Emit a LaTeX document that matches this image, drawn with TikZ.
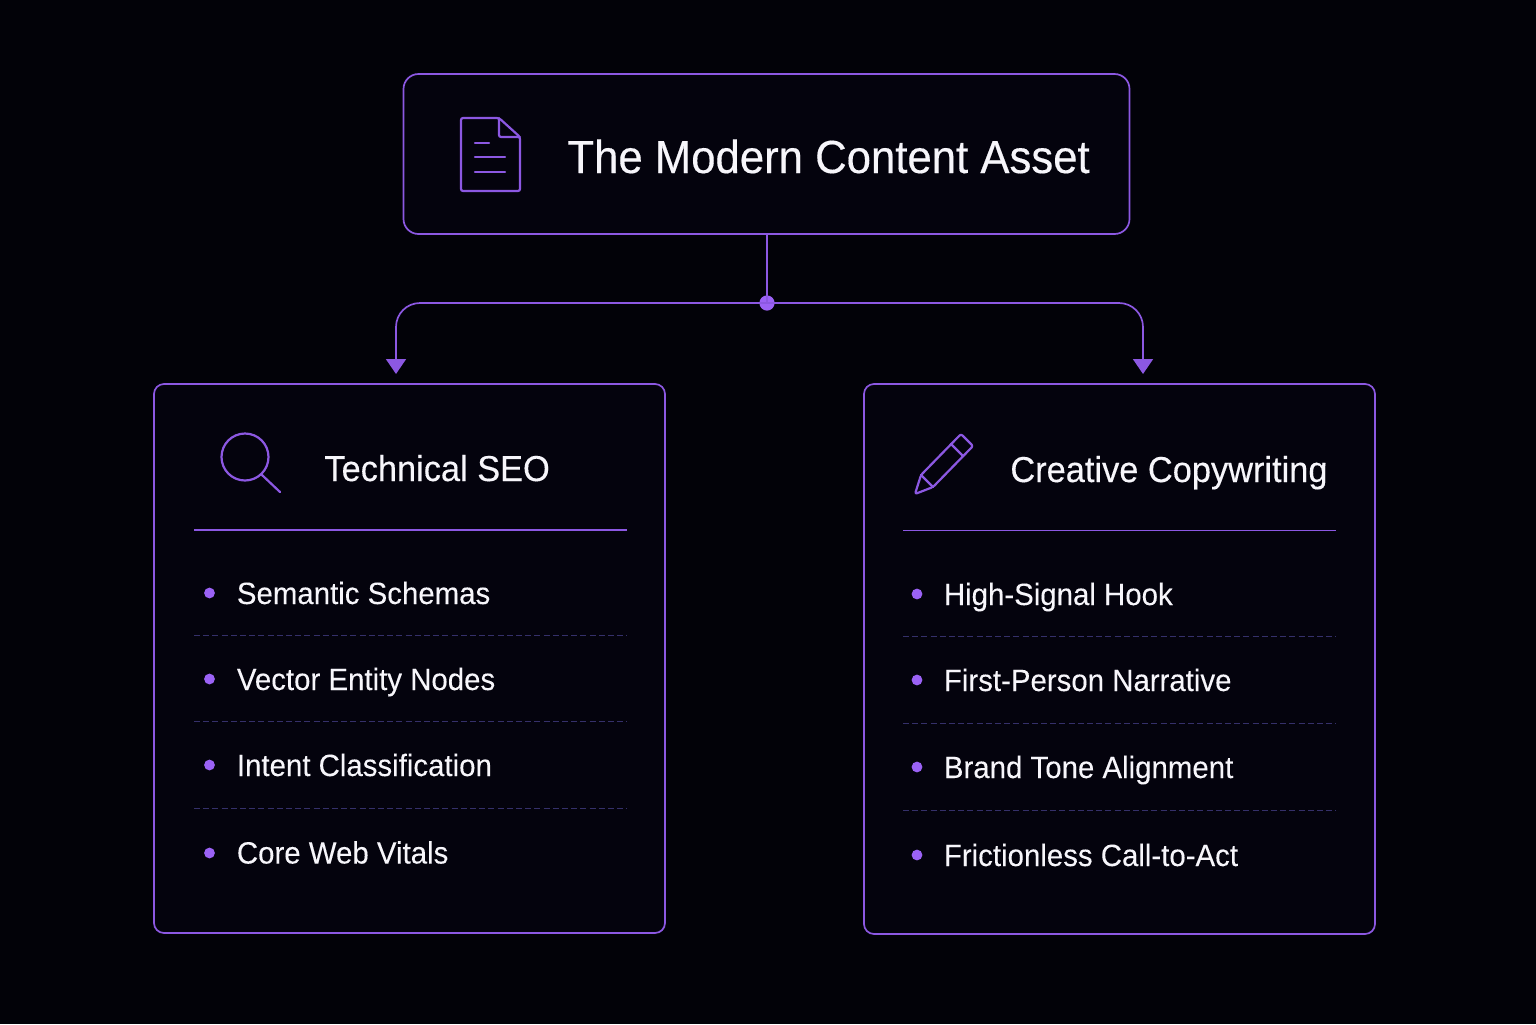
\documentclass[tikz,border=0pt]{standalone}
\usepackage{fontspec}
\setmainfont{Liberation Sans}
\newfontfamily\titlefont[FakeStretch=0.942,FakeBold=0.35]{Liberation Sans}
\newfontfamily\headfont[FakeStretch=0.955,FakeBold=0.3]{Liberation Sans}
\newfontfamily\bodyfont[FakeStretch=0.955,FakeBold=0.1]{Liberation Sans}
\usetikzlibrary{arrows.meta,calc}
\definecolor{bgc}{HTML}{020208}
\definecolor{cardc}{HTML}{04030D}
\definecolor{vio}{HTML}{8C58E2}
\definecolor{dot}{HTML}{9B62F5}
\definecolor{dashc}{HTML}{35306A}
\definecolor{txt}{HTML}{F7F6FB}
\tikzset{
  x=0.5pt,y=-0.5pt,
  cardbox/.style={draw=vio,line width=0.85pt,fill=cardc,rounded corners=#1},
  titletext/.style={anchor=base west,inner sep=0pt,text=txt,font=\titlefont\fontsize{23.2}{28}\selectfont},
  headtext/.style={anchor=base west,inner sep=0pt,text=txt,font=\headfont\fontsize{18}{22}\selectfont},
  itemtext/.style={anchor=base west,inner sep=0pt,text=txt,font=\bodyfont\fontsize{15.4}{18}\selectfont},
  icon/.style={draw=vio,line width=1.1pt,line join=round,line cap=round},
  rule/.style={draw=vio,line width=0.8pt},
  dashrule/.style={draw=dashc,line width=0.5pt,dash pattern=on 3pt off 1.6pt},
  link/.style={draw=vio,line width=0.85pt},
  bullet/.style={circle,fill=dot,inner sep=0pt,minimum size=5.4pt},
}
\begin{document}
\begin{tikzpicture}
\useasboundingbox[fill=bgc] (0,0) rectangle (1536,1024);
% boxes
\filldraw[cardbox=7.5pt] (403.5,74) rectangle (1129.5,234);
\filldraw[cardbox=5pt] (154,384) rectangle (665,933);
\filldraw[cardbox=5pt] (864,384) rectangle (1375,934);
\coordinate (topS) at (767,234);
\node[bullet,minimum size=7.6pt] (junction) at (767,303) {};
\coordinate (tipL) at (396,374);
\coordinate (tipR) at (1143,374);
\draw[link] (topS) -- (junction.center);
\draw[link,rounded corners=12pt,-{Triangle[length=7.5pt,width=10pt]}] (junction.center) -- (396,303) -- (tipL);
\draw[link,rounded corners=12pt,-{Triangle[length=7.5pt,width=10pt]}] (junction.center) -- (1143,303) -- (tipR);
% titles
\node[titletext] (title) at (567,173) {The Modern Content Asset};
\node[headtext] (headL) at (324,481) {Technical SEO};
\node[headtext] (headR) at (1010,482) {Creative Copywriting};
% document icon
\draw[icon,rounded corners=1pt] (499,118) -- (461,118) -- (461,191) -- (520,191) -- (520,137) -- cycle;
\draw[icon,rounded corners=1pt] (499,118) -- (499,137) -- (520,137);
\draw[icon] (475,143) -- (489,143) (475,157) -- (505,157) (475,172) -- (505,172);
% magnifier
\draw[icon] (245,457) circle[radius=23.5];
\draw[icon] (262,475) -- (280,492);
% pencil
\draw[icon,rounded corners=1pt] (961,434) -- (973,446) -- (933,487) -- (915,494) -- (921,475) -- cycle;
\draw[icon] (951,444) -- (963,456) (921,475) -- (933,487);
% rules
\draw[rule] (194,530) -- (627,530);
\draw[rule] (903,530.5) -- (1336,530.5);
\foreach \y in {635.5,721.5,808} \draw[dashrule] (194,\y) -- (627,\y);
\foreach \y in {636.5,723,810} \draw[dashrule] (903,\y) -- (1336,\y);
% left list
\node[bullet] (bl1) at (209.5,593) {};
\node[bullet] (bl2) at (209.5,679) {};
\node[bullet] (bl3) at (209.5,765) {};
\node[bullet] (bl4) at (209.5,853) {};
\node[itemtext] (tl1) at (236.5,604) {Semantic Schemas};
\node[itemtext] (tl2) at (236.5,690) {Vector Entity Nodes};
\node[itemtext] (tl3) at (236.5,776) {Intent Classification};
\node[itemtext] (tl4) at (236.5,863.5) {Core Web Vitals};
% right list
\node[bullet] (br1) at (917,594) {};
\node[bullet] (br2) at (917,680) {};
\node[bullet] (br3) at (917,767) {};
\node[bullet] (br4) at (917,855) {};
\node[itemtext] (tr1) at (943.5,605) {High-Signal Hook};
\node[itemtext] (tr2) at (943.5,691) {First-Person Narrative};
\node[itemtext] (tr3) at (943.5,778) {Brand Tone Alignment};
\node[itemtext] (tr4) at (943.5,866) {Frictionless Call-to-Act};
\end{tikzpicture}
\end{document}
